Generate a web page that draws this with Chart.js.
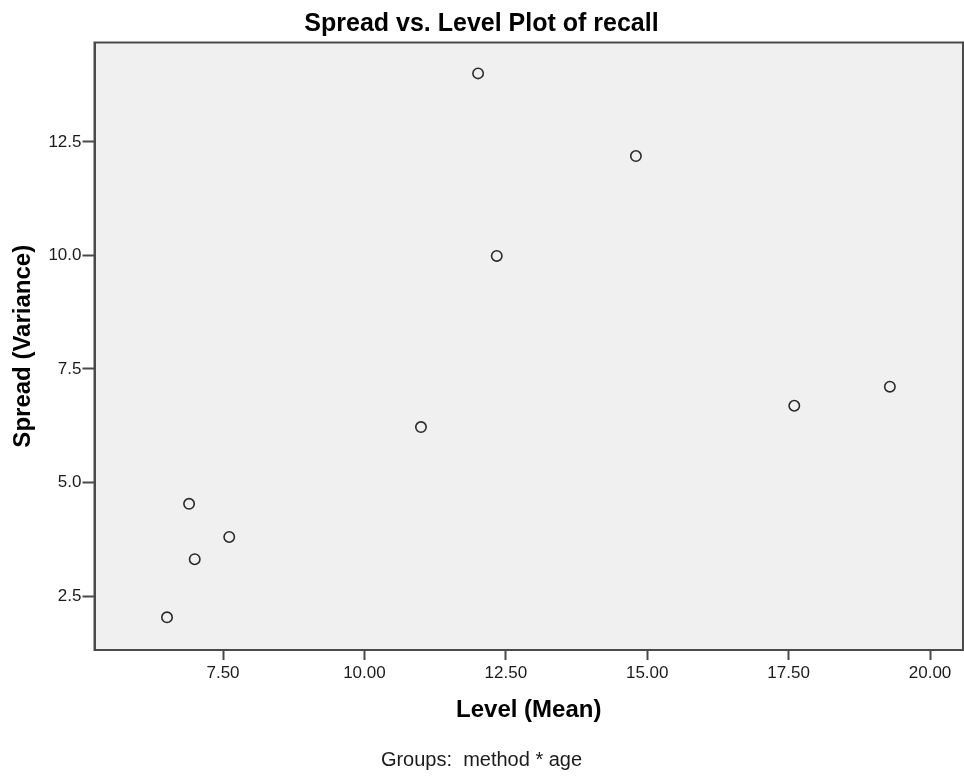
<!DOCTYPE html>
<html>
<head>
<meta charset="utf-8">
<title>Spread vs. Level Plot of recall</title>
<script src="https://cdn.jsdelivr.net/npm/chart.js@4"></script>
<style>
  html, body { margin: 0; padding: 0; background: #fff; }
  canvas { display: block; }
</style>
</head>
<body>
<canvas id="spreadLevel" width="964" height="779"></canvas>
<script>
// one point per method * age group
const levelMeans = [12.01, 14.80, 12.34, 11.00, 17.60, 19.29, 6.90, 7.61, 7.00, 6.51];
const spreadVariances = [14.01, 12.19, 9.99, 6.22, 6.69, 7.11, 4.53, 3.80, 3.31, 2.03];

const xTicks = [7.5, 10, 12.5, 15, 17.5, 20];
const yTicks = [2.5, 5, 7.5, 10, 12.5];

const fontFamily = '"Liberation Sans", Arial, sans-serif';
const frameColor = '#4a4a4a';

const points = levelMeans.map((x, i) => ({ x: x, y: spreadVariances[i] }));

// grey plot background + box around the plot area
const plotFrame = {
    id: 'plotFrame',
    beforeDraw(chart) {
        const { ctx, chartArea } = chart;
        ctx.save();
        ctx.fillStyle = '#f0f0f0';
        ctx.fillRect(chartArea.left, chartArea.top, chartArea.right - chartArea.left, chartArea.bottom - chartArea.top);
        ctx.restore();
    },
    afterDraw(chart) {
        const { ctx, chartArea } = chart;
        ctx.save();
        ctx.strokeStyle = frameColor;
        ctx.lineWidth = 2;
        ctx.strokeRect(chartArea.left, chartArea.top, chartArea.right - chartArea.left, chartArea.bottom - chartArea.top);
        ctx.restore();
    }
};

const canvas = document.getElementById('spreadLevel');

new Chart(canvas, {
    type: 'scatter',
    data: {
        datasets: [{
            label: 'recall',
            data: points,
            pointStyle: 'circle',
            pointRadius: 5.2,
            pointHoverRadius: 5.2,
            borderWidth: 1.6,
            borderColor: '#2a2a2a',
            backgroundColor: 'rgba(0,0,0,0)'
        }]
    },
    options: {
        responsive: false,
        animation: false,
        layout: {
            autoPadding: false,
            padding: { left: 0, right: 1, top: 0, bottom: 0 }
        },
        plugins: {
            legend: { display: false },
            tooltip: { enabled: false },
            title: {
                display: true,
                text: 'Spread vs. Level Plot of recall',
                color: '#000',
                font: { family: fontFamily, size: 25, weight: 'bold' },
                padding: { top: 9, bottom: 3.5 }
            },
            subtitle: {
                display: true,
                position: 'bottom',
                text: 'Groups:  method * age',
                color: '#1a1a1a',
                font: { family: fontFamily, size: 20, weight: 'normal' },
                padding: { top: 0, bottom: 7 }
            }
        },
        scales: {
            x: {
                type: 'linear',
                min: 5.228,
                max: 20.583,
                afterBuildTicks: axis => {
                    axis.ticks = xTicks.map(v => ({ value: v }));
                },
                afterFit: axis => {
                    axis.height = 98;
                    // keep the plot running to the right edge
                    axis.paddingLeft = 0;
                    axis.paddingRight = 0;
                },
                ticks: {
                    color: '#1a1a1a',
                    padding: 3,
                    autoSkip: false,
                    maxRotation: 0,
                    font: { family: fontFamily, size: 17 },
                    callback: v => Number(v).toFixed(2)
                },
                grid: {
                    drawOnChartArea: false,
                    drawTicks: true,
                    tickLength: 10,
                    tickWidth: 2,
                    tickColor: frameColor
                },
                border: { display: true, color: frameColor, width: 2 },
                title: {
                    display: true,
                    text: 'Level (Mean)',
                    color: '#000',
                    font: { family: fontFamily, size: 24, weight: 'bold' },
                    padding: { top: 0, bottom: 23 }
                }
            },
            y: {
                type: 'linear',
                min: 1.311,
                max: 14.69,
                afterBuildTicks: axis => {
                    axis.ticks = yTicks.map(v => ({ value: v }));
                },
                afterFit: axis => {
                    axis.width = 94.5;
                    axis.paddingTop = 0;
                    axis.paddingBottom = 0;
                },
                ticks: {
                    color: '#1a1a1a',
                    padding: 1,
                    autoSkip: false,
                    font: { family: fontFamily, size: 17 },
                    callback: v => Number(v).toFixed(1)
                },
                grid: {
                    drawOnChartArea: false,
                    drawTicks: true,
                    tickLength: 12,
                    tickWidth: 2,
                    tickColor: frameColor
                },
                border: { display: true, color: frameColor, width: 2 },
                title: {
                    display: true,
                    text: 'Spread (Variance)',
                    color: '#000',
                    font: { family: fontFamily, size: 24, weight: 'bold' },
                    padding: { top: 8.6, bottom: 0 }
                }
            }
        }
    },
    plugins: [plotFrame]
});
</script>
</body>
</html>
